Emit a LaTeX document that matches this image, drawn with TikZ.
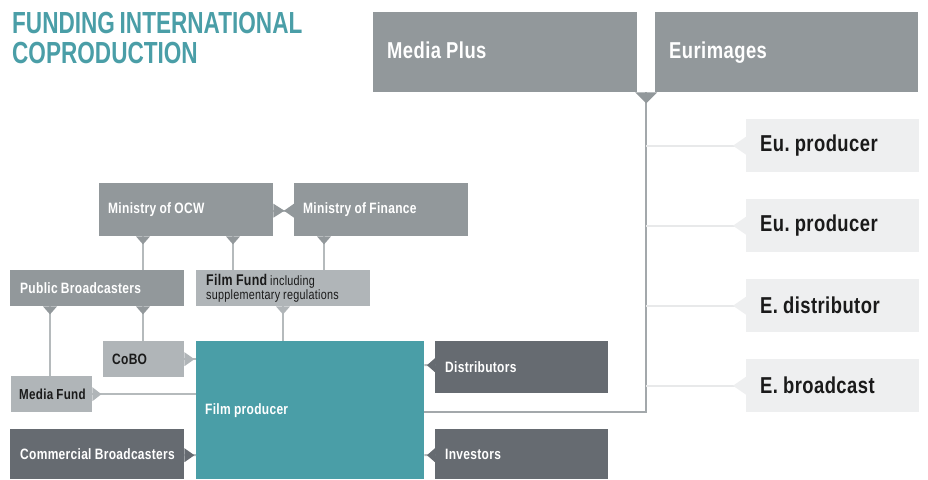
\documentclass[tikz,border=0pt]{standalone}
\usepackage{fontspec}
\setmainfont{Liberation Sans}[FakeStretch=0.8,WordSpace=0.9,LetterSpace=2]
\newfontfamily\titlefont{Liberation Sans}[FakeStretch=0.74,WordSpace=0.75]
\usetikzlibrary{calc}
\frenchspacing
\definecolor{cteal}{HTML}{4A9EA7}
\definecolor{cmid}{HTML}{92989B}
\definecolor{clight}{HTML}{B0B5B8}
\definecolor{cdark}{HTML}{666B71}
\definecolor{cpale}{HTML}{EEEFF0}
\definecolor{cline}{HTML}{B5BABC}
\definecolor{cvline}{HTML}{A3A8AB}
\definecolor{cpline}{HTML}{E8E9EA}
\definecolor{ctext}{HTML}{1A1A1A}
\newcommand\myfs[1]{\fontsize{#1}{#1}\selectfont\bfseries}
\tikzset{
  box/.style={rectangle, anchor=north west, inner xsep=10pt, inner ysep=0pt, align=flush left},
  midbox/.style={box, fill=cmid, text=white},
  lightbox/.style={box, fill=clight, text=ctext},
  darkbox/.style={box, fill=cdark, text=white},
  palebox/.style={box, fill=cpale, text=ctext},
  tealbox/.style={box, fill=cteal, text=white},
  ln/.style={draw=cline, line width=2pt},
  vln/.style={draw=cvline, line width=2pt},
  pln/.style={draw=cpline, line width=2pt},
}
\begin{document}
\begin{tikzpicture}[x=1pt,y=-1pt]
\useasboundingbox (0,0) rectangle (928,479);

% title
\node[anchor=north west, inner sep=0pt, align=left, text=cteal,
      font=\titlefont\fontsize{30.5}{30}\selectfont\bfseries] (title) at (12,12)
  {FUNDING INTERNATIONAL\\COPRODUCTION};

% top boxes
\node[midbox, inner xsep=14pt, text width=236pt, minimum height=80pt, font=\myfs{23}] (mp) at (373,12) {\raisebox{4pt}{Media Plus}};
\node[midbox, inner xsep=14pt, text width=235pt, minimum height=80pt, font=\myfs{23}] (eur) at (655,12) {\raisebox{4pt}{Eurimages}};

% European partners
\node[palebox, inner xsep=14pt, text width=145pt, minimum height=53pt, font=\myfs{23}] (eu1) at (746,119) {Eu. producer};
\node[palebox, inner xsep=14pt, text width=145pt, minimum height=53pt, font=\myfs{23}] (eu2) at (746,199) {Eu. producer};
\node[palebox, inner xsep=14pt, text width=145pt, minimum height=53pt, font=\myfs{23}] (eu3) at (746,279) {E. distributor};
\node[palebox, inner xsep=14pt, text width=145pt, minimum height=53pt, font=\myfs{23}] (eu4) at (746,359) {E. broadcast};

% ministries
\node[midbox, inner xsep=9pt, text width=156pt, minimum height=53pt, font=\myfs{15}] (ocw) at (99,183) {\mbox{Ministry of OCW}};
\node[midbox, inner xsep=9pt, text width=156pt, minimum height=53pt, font=\myfs{15}] (fin) at (294,183) {\mbox{Ministry of Finance}};

% second row
\node[midbox, text width=154pt, minimum height=36pt, font=\myfs{15}] (pub) at (10,270) {\mbox{Public Broadcasters}};
\node[lightbox, text width=154pt, minimum height=36pt, font=\fontsize{13.5}{14}\selectfont] (ff) at (196,270)
  {{\myfs{15.5}Film Fund} including\\supplementary regulations};

% lower left
\node[lightbox, inner xsep=9pt, text width=63pt, minimum height=36pt, font=\myfs{15}] (cobo) at (103,341) {CoBO};
\node[lightbox, inner xsep=8pt, text width=65pt, minimum height=36pt, font=\myfs{14.5}] (mf) at (11,376) {\mbox{Media Fund}};
\node[darkbox, text width=154pt, minimum height=50pt, font=\myfs{15}] (com) at (10,429) {\mbox{Commercial Broadcasters}};

% film producer
\node[tealbox, inner xsep=9pt, text width=210pt, minimum height=138pt, font=\myfs{15}] (fp) at (196,341) {Film producer};

% right of producer
\node[darkbox, text width=153pt, minimum height=52pt, font=\myfs{15}] (dist) at (435,341) {Distributors};
\node[darkbox, text width=153pt, minimum height=50pt, font=\myfs{15}] (inv) at (435,429) {Investors};

% ---- connectors ----
% Media Plus / Eurimages trunk
\coordinate (trunktop) at ($(mp.south east)!0.5!(eur.south west)$);
\coordinate (corner) at (trunktop |- 0,412);
\draw[vln] (trunktop) -- (corner) -- (fp.east |- corner);
\fill[cmid] ($(trunktop)+(-11,0)$) -- ++(22,0) -- ++(-11,11) -- cycle;

% European lines
\foreach \n in {eu1,eu2,eu3,eu4}{
  \draw[pln] (trunktop |- \n.west) -- (\n.west);
  \fill[cpale] ($(\n.west)+(0,-9)$) -- ++(0,18) -- ++(-13,-9) -- cycle;
}

% OCW - Finance link
\draw[ln] ($(ocw.east)+(0,1)$) -- ($(fin.west)+(0,1)$);
\fill[cmid] ($(ocw.east)+(0,-6)$) -- ++(0,14) -- ++(11,-7) -- cycle;
\fill[cmid] ($(fin.west)+(0,-6)$) -- ++(0,14) -- ++(-10,-7) -- cycle;

% OCW down to Public Broadcasters and Film Fund
\draw[ln] ($(ocw.south west)+(44,0)$) -- ($(pub.north west)+(133,0)$);
\fill[cmid] ($(ocw.south west)+(37,0)$) -- ++(14,0) -- ++(-7,8) -- cycle;
\draw[ln] ($(ocw.south west)+(134,0)$) -- ($(ff.north west)+(37,0)$);
\fill[cmid] ($(ocw.south west)+(127,0)$) -- ++(14,0) -- ++(-7,8) -- cycle;
% Finance down to Film Fund
\draw[ln] ($(fin.south west)+(30,0)$) -- ($(ff.north west)+(128,0)$);
\fill[cmid] ($(fin.south west)+(23,0)$) -- ++(14,0) -- ++(-7,8) -- cycle;

% Public Broadcasters down to Media Fund and CoBO
\draw[ln] ($(pub.south west)+(40,0)$) -- ($(mf.north west)+(39,0)$);
\fill[cmid] ($(pub.south west)+(33,0)$) -- ++(14,0) -- ++(-7,8) -- cycle;
\draw[ln] ($(pub.south west)+(133,0)$) -- ($(cobo.north west)+(40,0)$);
\fill[cmid] ($(pub.south west)+(126,0)$) -- ++(14,0) -- ++(-7,8) -- cycle;

% Film Fund down to Film producer
\draw[ln] ($(ff.south west)+(87,0)$) -- ($(fp.north west)+(87,0)$);
\fill[clight] ($(ff.south west)+(80,0)$) -- ++(14,0) -- ++(-7,8) -- cycle;

% into Film producer from the left
\draw[ln] (cobo.east) -- (fp.west |- cobo.east);
\fill[clight] ($(cobo.east)+(0,-7)$) -- ++(0,14) -- ++(10,-7) -- cycle;
\draw[ln] (mf.east) -- (fp.west |- mf.east);
\fill[clight] ($(mf.east)+(0,-7)$) -- ++(0,14) -- ++(9,-7) -- cycle;
\draw[ln] ($(com.east)+(0,1)$) -- (fp.west |- 0,455);
\fill[cdark] ($(com.east)+(0,-6)$) -- ++(0,14) -- ++(10,-7) -- cycle;

% into Film producer from the right
\draw[ln] ($(dist.west)+(0,-2)$) -- (fp.east |- 0,365);
\fill[cdark] ($(dist.west)+(0,-9)$) -- ++(0,14) -- ++(-8,-7) -- cycle;
\draw[ln] ($(inv.west)+(0,1)$) -- (fp.east |- 0,455);
\fill[cdark] ($(inv.west)+(0,-6)$) -- ++(0,14) -- ++(-8,-7) -- cycle;
\end{tikzpicture}
\end{document}
